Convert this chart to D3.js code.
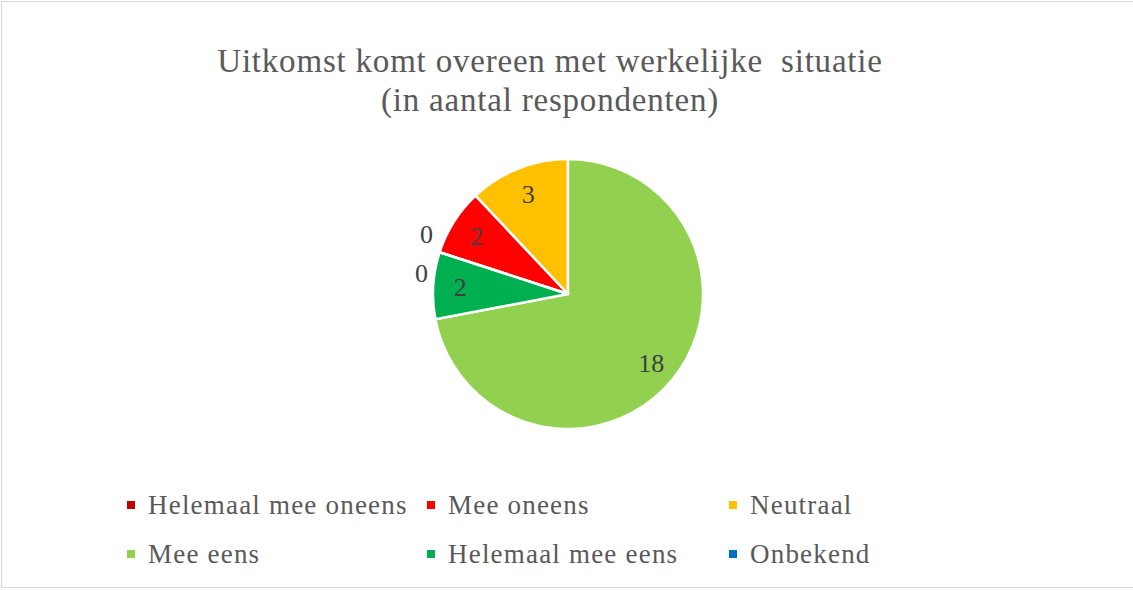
<!DOCTYPE html>
<html>
<head>
<meta charset="utf-8">
<script src="https://cdn.jsdelivr.net/npm/d3@7"></script>
<style>
  body { margin: 0; background: #fff; }
  svg { display: block; font-family: "Liberation Serif", "Times New Roman", serif; }
</style>
</head>
<body>
<div id="chart"></div>
<script>
// legend order = series order
var categories = ["Helemaal mee oneens", "Mee oneens", "Neutraal", "Mee eens", "Helemaal mee eens", "Onbekend"];
var counts = [0, 2, 3, 18, 2, 0];
var sliceColors = ["#C00000", "#FF0000", "#FFC000", "#92D050", "#00B050", "#0070C0"];
var titleLines = ["Uitkomst komt overeen met werkelijke  situatie", "(in aantal respondenten)"];

var width = 1133, height = 590;
var cx = 568, cy = 294, radius = 135;

var data = categories.map(function(c, i) { return {name: c, value: counts[i], color: sliceColors[i]}; });

var svg = d3.select("#chart").append("svg")
    .attr("width", width)
    .attr("height", height);

svg.append("rect")
    .attr("x", 1.5).attr("y", 1.5)
    .attr("width", width + 10).attr("height", 586)
    .attr("fill", "#fff")
    .attr("stroke", "#d9d9d9");

svg.selectAll(".title")
  .data(titleLines)
  .enter().append("text")
    .attr("class", "title")
    .attr("x", 550)
    .attr("y", function(d, i) { return 72 + i * 39; })
    .attr("text-anchor", "middle")
    .attr("fill", "#595959")
    .style("font-size", "33px")
    .style("letter-spacing", "0.8px")
    .style("white-space", "pre")
    .text(function(d) { return d; });

// first slice angle chosen so "Mee eens" starts at 12 o'clock
var before = d3.sum(counts.slice(0, 3));
var total = d3.sum(counts);
var offset = -before / total * 2 * Math.PI;

var pie = d3.pie()
    .value(function(d) { return d.value; })
    .sort(null)
    .startAngle(offset)
    .endAngle(offset + 2 * Math.PI);

var arcs = pie(data);
var arc = d3.arc().innerRadius(0).outerRadius(radius);

var g = svg.append("g")
    .attr("transform", "translate(" + cx + "," + cy + ")");

g.selectAll("path")
  .data(arcs)
  .enter().append("path")
    .attr("d", arc)
    .attr("fill", function(d) { return d.data.color; })
    .attr("stroke", "#fff")
    .attr("stroke-width", 2.5)
    .attr("stroke-linejoin", "round");

// data labels: inside for non-zero, outside for zeros
var labelPos = arcs.map(function(d) {
  var a = (d.startAngle + d.endAngle) / 2;
  var r = d.value > 0 ? radius * 0.8 : radius + 18;
  return [Math.sin(a) * r, -Math.cos(a) * r];
});
// the two zero labels share one boundary: push them apart vertically
var zeros = arcs.map(function(d, i) { return i; }).filter(function(i) { return arcs[i].value === 0; });
zeros.forEach(function(i) {
  var up = (i === zeros[0]);
  labelPos[i] = [labelPos[i][0] + (up ? 4 : -1), labelPos[i][1] + (up ? -13 : 26)];
});

g.selectAll(".lbl")
  .data(arcs)
  .enter().append("text")
    .attr("class", "lbl")
    .attr("x", function(d, i) { return labelPos[i][0]; })
    .attr("y", function(d, i) { return labelPos[i][1]; })
    .attr("dy", "0.35em")
    .attr("text-anchor", "middle")
    .attr("fill", "#404040")
    .style("font-size", "26px")
    .text(function(d) { return d.data.value; });

// legend, 3 columns x 2 rows
var colX = [127, 427, 729];
var rowY = [505, 554];
var legend = svg.selectAll(".leg")
  .data(data)
  .enter().append("g")
    .attr("class", "leg")
    .attr("transform", function(d, i) {
      return "translate(" + colX[i % 3] + "," + rowY[Math.floor(i / 3)] + ")";
    });

legend.append("rect")
    .attr("x", 0).attr("y", -4)
    .attr("width", 8).attr("height", 8)
    .attr("fill", function(d) { return d.color; });

legend.append("text")
    .attr("x", 21)
    .attr("y", 0)
    .attr("dy", "0.35em")
    .attr("fill", "#595959")
    .style("font-size", "27px")
    .style("letter-spacing", "1.2px")
    .text(function(d) { return d.name; });
</script>
</body>
</html>
